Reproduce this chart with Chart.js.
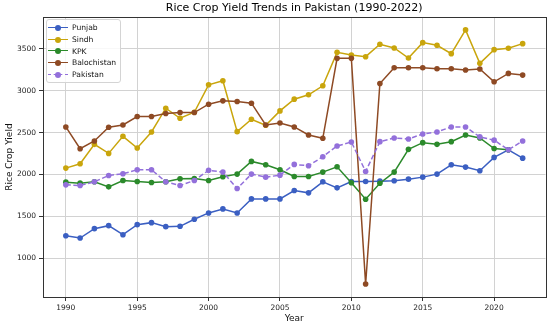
<!DOCTYPE html>
<html>
<head>
<meta charset="utf-8">
<title>Rice Crop Yield Trends in Pakistan</title>
<script src="https://cdn.jsdelivr.net/npm/chart.js@4"></script>
<style>
  html, body { margin: 0; padding: 0; background: #fff; }
  #wrap { position: relative; width: 550px; height: 324px; }
  #legend {
    position: absolute; left: 46px; top: 19px;
    border: 1px solid #d4d4d4; border-radius: 3px;
    background: rgba(255, 255, 255, 0.85);
    padding: 2px 4px 2px 1px;
    font-family: "DejaVu Sans", sans-serif; font-size: 7.6px; color: #111;
  }
  .item { display: flex; align-items: center; height: 11.7px; }
  .swatch { position: relative; width: 20px; height: 6px; margin-right: 4px; }
  .swatch .ln { position: absolute; left: 0; right: 0; top: 2px; border-top: 1.5px solid; }
  .swatch .dot { position: absolute; left: 7px; top: 0; width: 6px; height: 6px; border-radius: 50%; }
</style>
</head>
<body>
<div id="wrap">
  <canvas id="myChart" width="550" height="324"></canvas>
  <div id="legend"></div>
</div>
<script>
'use strict';

// <------------------ DATA ------------------>

let years = [];
for (let y = 1990; y <= 2022; y++) {
  years.push(y);
}

let punjab = [1268, 1240, 1352, 1388, 1280, 1400, 1424, 1376, 1380, 1464,
  1540, 1588, 1540, 1708, 1708, 1708, 1808, 1780, 1912, 1840,
  1915, 1915, 1920, 1924, 1944, 1968, 2004, 2116, 2088, 2044,
  2204, 2295, 2195];

let sindh = [2076, 2128, 2360, 2252, 2456, 2316, 2508, 2792, 2672, 2744,
  3072, 3120, 2512, 2660, 2588, 2760, 2900, 2952, 3060, 3460,
  3428, 3408, 3556, 3512, 3392, 3576, 3544, 3444, 3728, 3328,
  3492, 3508, 3564];

let kpk = [1908, 1896, 1912, 1852, 1928, 1916, 1904, 1912, 1948, 1952,
  1928, 1972, 2004, 2156, 2116, 2056, 1976, 1976, 2028, 2092,
  1900, 1704, 1895, 2028, 2300, 2380, 2360, 2392, 2472, 2436,
  2310, 2295, null];

let balochistan = [2568, 2308, 2400, 2564, 2592, 2692, 2692, 2728, 2740, 2740,
  2840, 2880, 2872, 2852, 2592, 2616, 2568, 2472, 2432, 3388,
  3388, 690, 3088, 3276, 3276, 3276, 3264, 3264, 3248, 3260,
  3108, 3208, 3188];

let pakistan = [1876, 1868, 1912, 1988, 2008, 2056, 2056, 1912, 1868, 1928,
  2050, 2028, 1832, 2004, 1968, 1992, 2120, 2104, 2212, 2340,
  2388, 2036, 2392, 2436, 2424, 2484, 2508, 2568, 2568, 2449,
  2410, 2295, 2400];

let seriesNames = ['Punjab', 'Sindh', 'KPK', 'Balochistan', 'Pakistan'];
let seriesValues = [punjab, sindh, kpk, balochistan, pakistan];
let seriesColors = ['#3b5fc2', '#c9a50c', '#2b8a2b', '#8e4a24', '#9370db'];

let xTicks = [1990, 1995, 2000, 2005, 2010, 2015, 2020];
let yTicks = [1000, 1500, 2000, 2500, 3000, 3500];

// <------------------ HELPERS ------------------>

function toPoints(values) {
  let pts = [];
  for (let i = 0; i < years.length; i++) {
    pts.push({ x: years[i], y: values[i] });
  }
  return pts;
}

let datasets = [];
for (let i = 0; i < seriesNames.length; i++) {
  datasets.push({
    label: seriesNames[i],
    data: toPoints(seriesValues[i]),
    borderColor: seriesColors[i],
    backgroundColor: seriesColors[i],
    pointBackgroundColor: seriesColors[i],
    pointBorderColor: seriesColors[i],
    pointRadius: 2.8,
    pointBorderWidth: 0,
    borderWidth: 1.5,
    borderDash: seriesNames[i] === 'Pakistan' ? [5, 2.5] : [],
    tension: 0,
    spanGaps: false,
    order: seriesNames.length - 1 - i
  });
}

// box round the plot, like matplotlib spines
let frame = {
  id: 'frame',
  afterDraw(chart) {
    let a = chart.chartArea;
    let c = chart.ctx;
    c.save();
    c.strokeStyle = '#333';
    c.lineWidth = 1;
    c.strokeRect(Math.round(a.left) + 0.5, Math.round(a.top) + 0.5,
      Math.round(a.right - a.left), Math.round(a.bottom - a.top));
    c.restore();
  }
};

let tickFont = { family: 'DejaVu Sans', size: 7.5 };
let labelFont = { family: 'DejaVu Sans', size: 9 };

// <------------------ CHART ------------------>

let ctx = document.getElementById('myChart').getContext('2d');

let myChart = new Chart(ctx, {
  type: 'line',
  data: { datasets: datasets },
  options: {
    responsive: false,
    animation: false,
    layout: { padding: { left: 0, right: 4.5, top: 0, bottom: 0 } },
    plugins: {
      legend: { display: false },
      tooltip: { enabled: false },
      title: {
        display: true,
        text: 'Rice Crop Yield Trends in Pakistan (1990-2022)',
        fullSize: false,
        color: '#000',
        font: { family: 'DejaVu Sans', size: 11, weight: 'normal' },
        padding: { top: 2, bottom: 2 }
      }
    },
    scales: {
      x: {
        type: 'linear',
        min: 1988.4,
        max: 2023.6,
        afterBuildTicks: (axis) => { axis.ticks = xTicks.map(v => ({ value: v })); },
        afterFit: (axis) => { axis.height = 27; },
        ticks: { font: tickFont, color: '#222', padding: 3, maxRotation: 0, callback: (v) => String(v) },
        grid: { color: '#d2d2d2', lineWidth: 1, tickColor: '#333', tickLength: 4 },
        border: { display: false },
        title: { display: true, text: 'Year', font: labelFont, color: '#111', padding: { top: 0, bottom: 0 } }
      },
      y: {
        min: 535,
        max: 3880,
        afterBuildTicks: (axis) => { axis.ticks = yTicks.map(v => ({ value: v })); },
        afterFit: (axis) => { axis.width = 43; },
        ticks: { font: tickFont, color: '#222', padding: 3, callback: (v) => String(v) },
        grid: { color: '#d2d2d2', lineWidth: 1, tickColor: '#333', tickLength: 4 },
        border: { display: false },
        title: { display: true, text: 'Rice Crop Yield', font: labelFont, color: '#111', padding: { top: 4, bottom: 0 } }
      }
    }
  },
  plugins: [frame]
});

// <------------------ LEGEND ------------------>

let legendBox = document.getElementById('legend');
for (let i = 0; i < datasets.length; i++) {
  let ds = datasets[i];
  let row = document.createElement('div');
  row.className = 'item';
  let sw = document.createElement('span');
  sw.className = 'swatch';
  let ln = document.createElement('span');
  ln.className = 'ln';
  ln.style.borderTopColor = ds.borderColor;
  if (ds.borderDash.length) {
    ln.style.borderTopStyle = 'dashed';
  }
  let dot = document.createElement('span');
  dot.className = 'dot';
  dot.style.background = ds.borderColor;
  sw.appendChild(ln);
  sw.appendChild(dot);
  let txt = document.createElement('span');
  txt.textContent = ds.label;
  row.appendChild(sw);
  row.appendChild(txt);
  legendBox.appendChild(row);
}
</script>
</body>
</html>
